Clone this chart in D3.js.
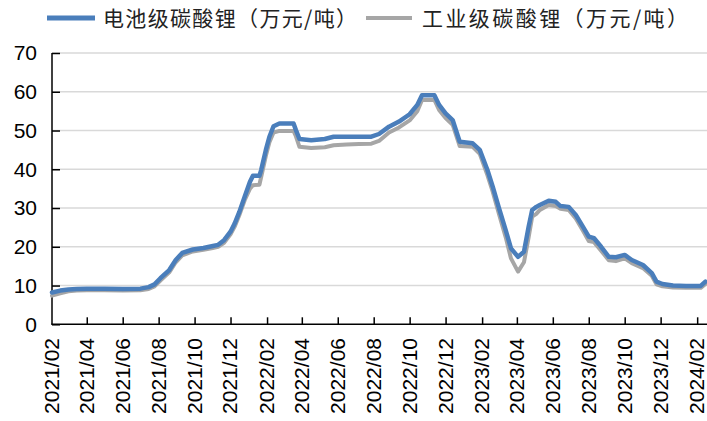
<!DOCTYPE html>
<html><head><meta charset="utf-8">
<script src="https://cdn.jsdelivr.net/npm/d3@7"></script>
<style>body{margin:0;background:#fff;}svg{display:block;}</style>
</head><body><svg id="c" width="707" height="421"></svg>
<script>
const dates = ["2021-02-01","2021-02-15","2021-03-01","2021-03-15","2021-04-01","2021-05-01","2021-06-01","2021-07-01","2021-07-15","2021-07-25","2021-08-04","2021-08-19","2021-08-30","2021-09-10","2021-09-28","2021-10-16","2021-11-01","2021-11-10","2021-11-20","2021-12-01","2021-12-08","2021-12-16","2021-12-25","2022-01-03","2022-01-08","2022-01-19","2022-01-22","2022-01-30","2022-02-05","2022-02-12","2022-02-22","2022-03-18","2022-03-22","2022-03-28","2022-04-17","2022-05-10","2022-05-25","2022-06-16","2022-07-07","2022-07-28","2022-08-10","2022-08-27","2022-09-13","2022-10-01","2022-10-14","2022-10-22","2022-11-12","2022-11-20","2022-12-01","2022-12-13","2022-12-25","2023-01-16","2023-01-28","2023-02-10","2023-02-19","2023-03-01","2023-03-13","2023-03-22","2023-04-03","2023-04-13","2023-04-21","2023-04-27","2023-05-04","2023-05-10","2023-05-25","2023-06-06","2023-06-14","2023-06-28","2023-07-10","2023-07-22","2023-08-01","2023-08-10","2023-08-22","2023-09-04","2023-09-16","2023-10-01","2023-10-13","2023-11-01","2023-11-16","2023-11-24","2023-12-04","2023-12-22","2024-01-13","2024-02-07","2024-02-15"];
const battery = [8.2,8.7,9.0,9.1,9.2,9.2,9.1,9.2,9.6,10.3,11.9,14.0,16.6,18.4,19.3,19.7,20.2,20.5,21.7,23.9,26.0,29.0,32.9,36.8,38.3,38.3,39.8,45.0,48.4,51.1,51.8,51.8,50.1,47.8,47.5,47.8,48.4,48.4,48.4,48.4,49.1,51.0,52.3,54.2,56.6,59.1,59.1,56.6,54.4,52.7,47.1,46.7,45.0,39.8,35.5,30.3,24.3,19.6,17.4,18.7,25.2,29.5,30.3,30.8,31.9,31.6,30.5,30.3,28.2,25.2,22.6,22.2,20.0,17.4,17.3,17.9,16.6,15.3,13.2,11.0,10.4,10.0,9.9,9.9,11.0];
const industrial = [7.4,8.0,8.5,8.7,8.8,8.8,8.7,8.8,9.1,9.8,11.3,13.4,16.0,17.8,18.8,19.2,19.7,20.0,21.0,23.2,25.2,28.2,32.0,35.0,35.9,36.0,38.0,43.5,47.0,49.5,49.9,49.9,48.5,45.8,45.5,45.7,46.2,46.4,46.5,46.6,47.3,49.5,50.8,52.6,55.0,57.9,57.9,55.3,53.2,51.5,46.0,45.8,44.0,38.5,34.2,28.8,22.5,17.0,13.6,16.0,22.5,27.8,28.5,29.5,30.8,30.5,29.8,29.5,27.3,24.2,21.5,21.2,19.0,16.5,16.3,17.0,15.8,14.5,12.5,10.3,9.8,9.5,9.4,9.4,10.4];
const xTickLabels = ["2021/02","2021/04","2021/06","2021/08","2021/10","2021/12","2022/02","2022/04","2022/06","2022/08","2022/10","2022/12","2023/02","2023/04","2023/06","2023/08","2023/10","2023/12","2024/02"];
const yTicks = [0,10,20,30,40,50,60,70];
const seriesNames = ["电池级碳酸锂（万元/吨）","工业级碳酸锂（万元/吨）"];
const colors = ["#4a7ebb","#a6a6a6"];

const svg = d3.select("#c");
const parse = d3.timeParse("%Y-%m-%d");
const parseTick = d3.timeParse("%Y/%m");
const x = d3.scaleTime().domain([parse("2021-02-01"), parse("2024-02-16")]).range([52, 706]);
const y = d3.scaleLinear().domain([0, 70]).range([324.3, 53]);

// gridlines
svg.append("g").selectAll("line").data(yTicks.filter(d => d > 0)).join("line")
  .attr("x1", 52).attr("x2", 707).attr("y1", d => y(d)).attr("y2", d => y(d))
  .attr("stroke", "#d9d9d9").attr("stroke-width", 1.5);

// y axis
const yAxis = d3.axisRight(y).tickValues(yTicks).tickSize(8).tickFormat("");
const gy = svg.append("g").attr("transform", "translate(52,0)").call(yAxis);
gy.select(".domain").remove();
gy.selectAll("line").attr("stroke", "#000").attr("stroke-width", 1.5);
svg.append("line").attr("x1", 52).attr("x2", 52).attr("y1", y(70)).attr("y2", y(0))
  .attr("stroke", "#000").attr("stroke-width", 1.5);
svg.append("g").selectAll("text").data(yTicks).join("text")
  .attr("x", 37).attr("y", d => y(d)).attr("dy", "0.35em").attr("text-anchor", "end")
  .attr("font-family", "Liberation Sans, Arial, sans-serif").attr("font-size", 21).attr("fill", "#000")
  .text(d => d);

// x axis
const xTickDates = xTickLabels.map(parseTick);
const xAxis = d3.axisTop(x).tickValues(xTickDates.slice(1)).tickSize(7).tickFormat("");
const gx = svg.append("g").attr("transform", "translate(0,324.3)").call(xAxis);
gx.select(".domain").remove();
gx.selectAll("line").attr("stroke", "#000").attr("stroke-width", 1.5);
svg.append("line").attr("x1", 51.25).attr("x2", 707).attr("y1", 324.3).attr("y2", 324.3)
  .attr("stroke", "#000").attr("stroke-width", 1.5);
svg.append("g").selectAll("text").data(xTickLabels).join("text")
  .attr("transform", (d, i) => `translate(${x(xTickDates[i])},338) rotate(-90)`)
  .attr("dy", "0.33em").attr("text-anchor", "end")
  .attr("font-family", "Liberation Sans, Arial, sans-serif").attr("font-size", 21).attr("fill", "#000")
  .text(d => d);

// lines
const pts = (vals) => dates.map((d, i) => ({ d: parse(d), v: vals[i] }));
const line = d3.line().x(p => x(p.d)).y(p => y(p.v));
svg.append("path").datum(pts(industrial)).attr("d", line).attr("fill", "none")
  .attr("stroke", colors[1]).attr("stroke-width", 4).attr("stroke-linejoin", "round").attr("stroke-linecap", "round");
svg.append("path").datum(pts(battery)).attr("d", line).attr("fill", "none")
  .attr("stroke", colors[0]).attr("stroke-width", 4.5).attr("stroke-linejoin", "round").attr("stroke-linecap", "round");

// legend
const legendPos = [{l1: 47, l2: 95, tx: 103, tw: 254}, {l1: 366, l2: 412, tx: 422, tw: 266}];
const lg = svg.append("g");
seriesNames.forEach((name, i) => {
  const p = legendPos[i];
  lg.append("line").attr("x1", p.l1).attr("x2", p.l2).attr("y1", 18).attr("y2", 18)
    .attr("stroke", colors[i]).attr("stroke-width", i === 0 ? 5 : 4);
  lg.append("text").attr("x", p.tx).attr("y", 18).attr("dy", "0.36em")
    .attr("textLength", p.tw).attr("lengthAdjust", "spacing")
    .attr("font-family", "Noto Sans CJK SC, sans-serif").attr("font-size", 21).attr("fill", "#222")
    .text(name);
});
</script></body></html>
